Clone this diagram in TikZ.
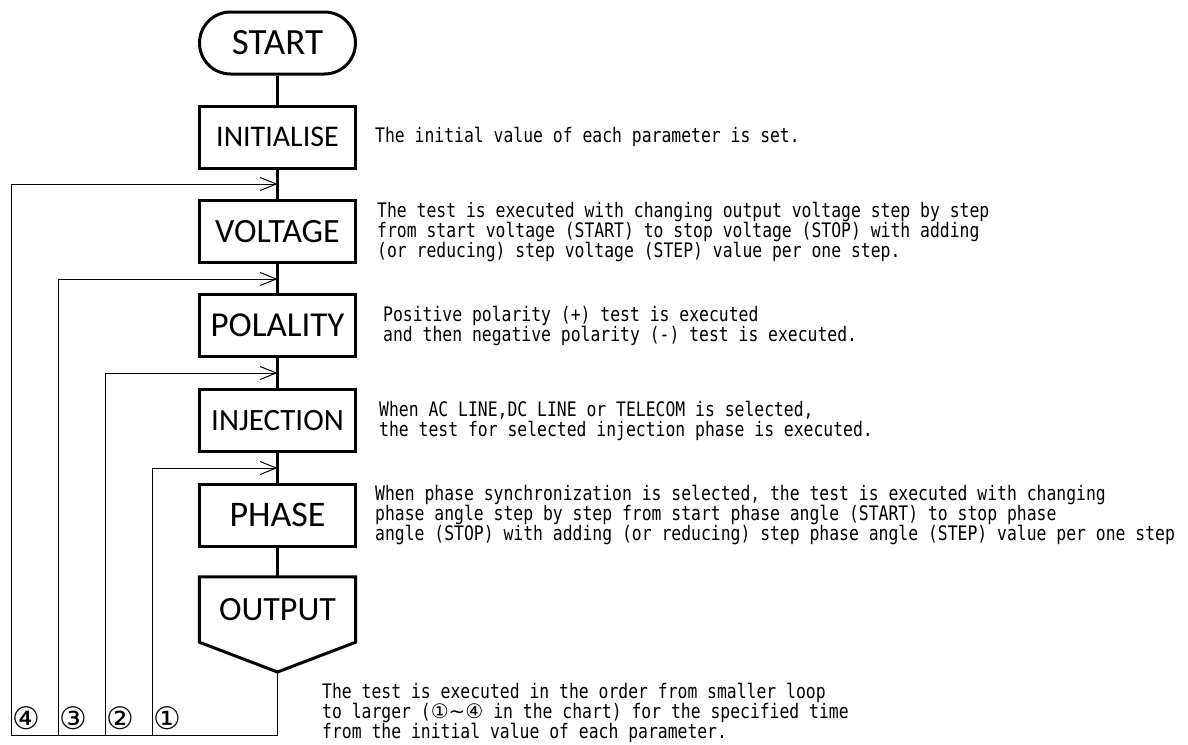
\documentclass[tikz,border=0pt]{standalone}
\usepackage{fontspec}
\usetikzlibrary{arrows.meta,calc}
\newfontfamily\labelfont{Carlito}
\newfontfamily\descfont[FakeStretch=0.82]{DejaVu Sans Mono}
\newfontfamily\numfont{DejaVu Sans}
\tikzset{
  card/.style={draw=black,fill=white,line width=3pt,minimum width=156pt,
               minimum height=62pt,inner sep=0pt},
  termcard/.style={card,rounded corners=31pt},
  trunk/.style={line width=3pt},
  looparr/.style={-{Straight Barb[length=16pt,width=13pt]},line width=1pt},
  desc/.style={anchor=west,align=left,inner sep=0pt,
               font={\descfont\fontsize{20}{20}\selectfont}},
  loopnum/.style={inner sep=0pt,font={\numfont\fontsize{31}{31}\selectfont}}
}

\begin{document}
\begin{tikzpicture}[x=1pt,y=-1pt]
    \path[use as bounding box] (0,0) rectangle (1188,744);
    % flow boxes
    \node[termcard,font={\labelfont\fontsize{37}{37}\selectfont}] (start) at (277.5,43) {START};
    \node[card,font={\labelfont\fontsize{30}{30}\selectfont}] (init) at (277.5,137) {INITIALISE};
    \node[card,font={\labelfont\fontsize{34}{34}\selectfont}] (volt) at (277.5,231.5) {VOLTAGE};
    \node[card,font={\labelfont\fontsize{35}{35}\selectfont}] (pol) at (277.5,325.5) {POLALITY};
    \node[card,font={\labelfont\fontsize{31}{31}\selectfont}] (inj) at (277.5,420.5) {INJECTION};
    \node[card,font={\labelfont\fontsize{36}{36}\selectfont}] (phase) at (277.5,515) {PHASE};
    \node[minimum width=156pt,minimum height=65pt,inner sep=0pt,
          font={\labelfont\fontsize{34}{34}\selectfont}] (output) at (277.5,609.5) {OUTPUT};
    \coordinate (outtip) at (277.5,672);
    \draw[line width=3pt] (output.north west) -- (output.north east) -- (output.south east)
      -- (outtip) -- (output.south west) -- cycle;
    \draw[trunk] (start) -- (init);
    \draw[trunk] (init) -- (volt);
    \draw[trunk] (volt) -- (pol);
    \draw[trunk] (pol) -- (inj);
    \draw[trunk] (inj) -- (phase);
    \draw[trunk] (phase) -- (output.north);
    % loops
    \coordinate (base) at (277.5,735);
    \draw[line width=1pt] (outtip) -- (base);
    \foreach \x/\y/\n/\c in {11/184/4/④,58/279/3/③,105/373/2/②,152/468/1/①}{
      \coordinate (j\n) at (277.5,\y);
      \coordinate (c\n) at (\x,735);
      \draw[looparr] (base) -- (c\n) |- (j\n);
      \node[loopnum] (n\n) at ({\x+15},718) {\c};
    }
    % descriptions
    \node[desc] (dinit) at (375,137) {The initial value of each parameter is set.};
    \node[desc] (dvolt) at (377,232)
      {The test is executed with changing output voltage step by step\\
       from start voltage (START) to stop voltage (STOP) with adding\\
       (or reducing) step voltage (STEP) value per one step.};
    \node[desc] (dpol) at (383,326)
      {Positive polarity (+) test is executed\\
       and then negative polarity (-) test is executed.};
    \node[desc] (dinj) at (379,421)
      {When AC LINE,DC LINE or TELECOM is selected,\\
       the test for selected injection phase is executed.};
    \node[desc] (dphase) at (375,515)
      {When phase synchronization is selected, the test is executed with changing\\
       phase angle step by step from start phase angle (START) to stop phase\\
       angle (STOP) with adding (or reducing) step phase angle (STEP) value per one step};
    \node[desc] (dout) at (322,713)
      {The test is executed in the order from smaller loop\\
       to larger ({\numfont ①∼④} in the chart) for the specified time\\
       from the initial value of each parameter.};
  \end{tikzpicture}
\end{document}
